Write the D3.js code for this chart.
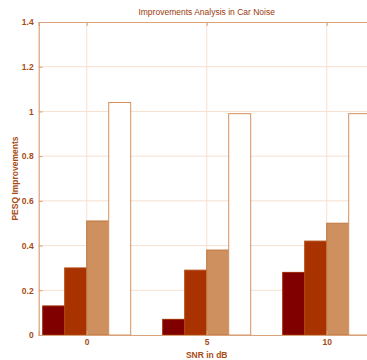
<!DOCTYPE html>
<html>
<head>
<meta charset="utf-8">
<script src="https://cdn.jsdelivr.net/npm/d3@7"></script>
<style>
  body { margin: 0; background: #fff; }
  svg { display: block; font-family: "Liberation Sans", Arial, sans-serif; }
</style>
</head>
<body>
<svg id="chart" width="367" height="360"></svg>
<script>
// data
const snrLevels = [0, 5, 10];
const s1 = [0.13, 0.07, 0.28];
const s2 = [0.30, 0.29, 0.42];
const s3 = [0.51, 0.38, 0.50];
const s4 = [1.04, 0.99, 0.99];
const yTicks = [0, 0.2, 0.4, 0.6, 0.8, 1, 1.2, 1.4];

const series = [s1, s2, s3, s4];
const fills = ['#800000', '#a83300', '#cf9060', '#ffffff'];
const edges = ['#9a2a00', '#b14a10', '#c07840', '#d49060'];
const textCol = '#a84c16';
const axisCol = '#d9a278';

const svg = d3.select('#chart');
const plotLeft = 38.7, plotTop = 22, plotBottom = 335;

const x = d3.scaleLinear().domain([-2, 12]).range([plotLeft, plotLeft + 14 * 24]);
const y = d3.scaleLinear().domain([0, 1.4]).range([plotBottom, plotTop]);
const barW = 22;

// grid
svg.append('g').selectAll('line').data(yTicks.slice(1, -1)).enter().append('line')
  .attr('x1', x(-2)).attr('x2', x(12))
  .attr('y1', d => y(d)).attr('y2', d => y(d))
  .attr('stroke', '#f6e0d0').attr('stroke-width', 1);
svg.append('g').selectAll('line').data(snrLevels).enter().append('line')
  .attr('x1', d => x(d)).attr('x2', d => x(d))
  .attr('y1', plotTop).attr('y2', plotBottom)
  .attr('stroke', '#f6e0d0').attr('stroke-width', 1);

// bars
series.forEach(function(vals, si) {
  svg.append('g').selectAll('rect').data(vals).enter().append('rect')
    .attr('x', (d, i) => x(snrLevels[i]) - 2 * barW + si * barW)
    .attr('width', barW)
    .attr('y', d => y(d))
    .attr('height', d => plotBottom - y(d))
    .attr('fill', fills[si])
    .attr('stroke', edges[si])
    .attr('stroke-width', 1);
});

// axes
const yAxis = svg.append('g').attr('transform', 'translate(' + plotLeft + ',0)')
  .call(d3.axisLeft(y).tickValues(yTicks).tickSize(-4).tickPadding(5)
    .tickFormat(d => d3.format('')(d)));
const xAxis = svg.append('g').attr('transform', 'translate(0,' + plotBottom + ')')
  .call(d3.axisBottom(x).tickValues(snrLevels).tickSize(-4).tickPadding(4));
const topAxis = svg.append('g').attr('transform', 'translate(0,' + plotTop + ')')
  .call(d3.axisTop(x).tickValues(snrLevels).tickSize(-4).tickFormat(''));

[yAxis, xAxis, topAxis].forEach(function(a) {
  a.select('.domain').attr('stroke', axisCol).attr('stroke-width', 1.2);
  a.selectAll('.tick line').attr('stroke', axisCol);
  a.selectAll('.tick text').attr('fill', textCol).attr('font-size', 8.5).attr('font-weight', 'bold');
});

// texts
svg.append('text').attr('x', 206.7).attr('y', 15).attr('text-anchor', 'middle')
  .attr('fill', '#9a3a0a').attr('font-size', 8.5).text('Improvements Analysis in Car Noise');
svg.append('text').attr('x', 206.7).attr('y', 357.5).attr('text-anchor', 'middle')
  .attr('fill', textCol).attr('font-size', 8.5).attr('font-weight', 'bold').text('SNR in dB');
svg.append('text').attr('transform', 'translate(17.5,178.5) rotate(-90)').attr('text-anchor', 'middle')
  .attr('fill', textCol).attr('font-size', 8.5).attr('font-weight', 'bold').text('PESQ Improvements');
</script>
</body>
</html>
